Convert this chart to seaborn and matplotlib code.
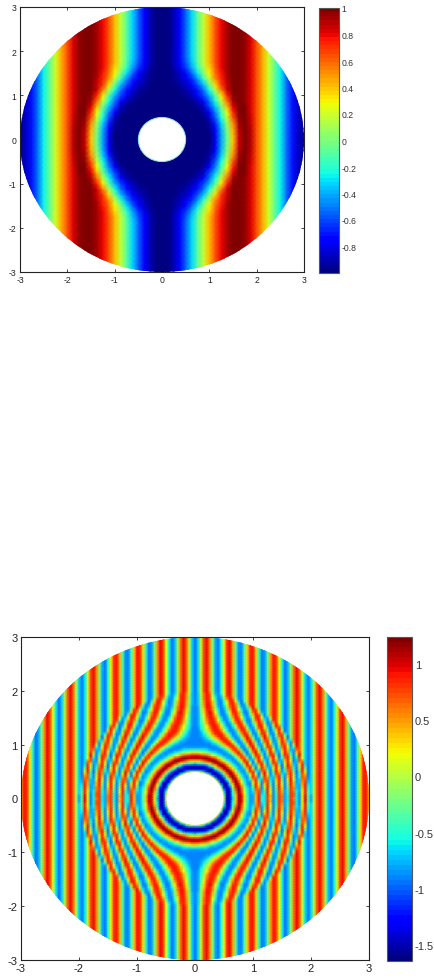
import numpy as np
import matplotlib
matplotlib.use("Agg")
import matplotlib.pyplot as plt
from matplotlib.patches import Ellipse
import seaborn as sns

# field values, one quadrant each (the plots are mirror symmetric)
# upper plot: x = 0, 0.125 .. 3, straight stripes outside the bent zone
top_outer = [
    -1, -.97, -.88, -.73, -.54, -.32, -.07, .18, .42, .63, .80, .92, .99,
    .99, .94, .82, .65, .44, .21, -.04, -.28, -.51, -.71, -.86, -.96,
]
# bent zone, y = 0, 0.125 .. 1.875; each row runs on into top_outer
top_rows = [
    [-1, -1, -1, -1, -1, -1, -1, -.99, -.97, -.80, -.43, -.05, .40, .85, .99, .89],
    [-1, -1, -1, -1, -1, -1, -1, -.99, -.97, -.79, -.42, -.03, .42, .86, .99, .89],
    [-1, -1, -1, -1, -1, -1, -1, -.99, -.95, -.75, -.38, .01, .45, .90, .99, .88],
    [-1, -1, -1, -1, -1, -1, -1, -.98, -.91, -.68, -.32, .07, .53, .92, .99, .87],
    [-1, -1, -1, -1, -1, -1, -.99, -.97, -.85, -.57, -.25, .17, .63, .95, .98, .86],
    [-1, -1, -1, -1, -1, -.99, -.98, -.93, -.76, -.47, -.13, .27, .72, .99, .98, .84],
    [-1, -1, -1, -1, -1, -.99, -.96, -.85, -.62, -.36, -.01, .42, .82, 1, .97],
    [-1, -1, -1, -1, -.99, -.96, -.89, -.72, -.51, -.23, .16, .59, .92, 1, .95],
    [-1, -1, -1, -.99, -.96, -.90, -.78, -.62, -.38, -.07, .34, .74, .95, 1],
    [-1, -1, -.99, -.96, -.91, -.83, -.70, -.51, -.24, .14, .55, .85, .97, 1],
    [-1, -.99, -.97, -.93, -.86, -.75, -.59, -.36, -.03, .35, .69, .87, .98],
    [-1, -.99, -.96, -.90, -.81, -.67, -.45, -.17, .18, .52, .74, .90],
    [-1, -.99, -.94, -.85, -.73, -.54, -.29, .03, .30, .57, .78],
    [-1, -.98, -.92, -.81, -.64, -.41, -.16, .11, .37, .62],
    [-1, -.97, -.89, -.76, -.58, -.36, -.11, .16],
    [-1, -.97, -.89, -.74, -.56, -.32],
]

# lower plot: x = 0, 0.05 .. 3, straight stripes outside the bent zone
outer_stripe = [
    -.95, -.66, .04, .71, .95, .60, -.11, -.76, -.94, -.55, .18, .80, .93, .49, -.25, -.84,
    -.91, -.42, .32, .87, .88, .35, -.39, -.89, -.85, -.29, .46, .92, .82, .22, -.52, -.93,
    -.78, -.14, .58, .94, .73, .07, -.63, -.95, -.68, .0, .69, .95, .63, -.07, -.73, -.94,
    -.57, .15, .78, .93, .51, -.22, -.82, -.92, -.45, .29, .85, .89, .39,
]
# bent zone in tenths, y = 0, 0.05 .. 1.9; each row runs on into outer_stripe
lower_rows = [
    [-2, -2, -2, -2, -2, -2, -2, -2, -2, -2, -2, -14, -15, -7, 3, 11, 10, 3, -4, -8, -8, 4, 9, -6, -6, 8, 3, -9, -5, 8, 6, -8, -6, 8, 6, -6, -9, 2, 10, -3, -8],
    [-2, -2, -2, -2, -2, -2, -2, -2, -2, -2, -2, -14, -15, -6, 3, 11, 11, 3, -4, -8, -8, 4, 9, -6, -6, 8, 4, -9, -5, 8, 6, -8, -6, 8, 7, -6, -9, 2, 10, -3, -8],
    [-2, -2, -2, -2, -2, -2, -2, -2, -2, -2, -4, -15, -14, -5, 4, 11, 9, 2, -5, -8, -7, 5, 8, -7, -5, 9, 2, -9, -4, 8, 5, -8, -5, 8, 7, -6, -9, 2, 9, -3],
    [-2, -2, -2, -2, -2, -2, -2, -2, -2, -2, -7, -15, -13, -4, 6, 12, 8, 1, -5, -8, -6, 6, 7, -8, -4, 9, 2, -9, -3, 8, 4, -8, -5, 8, 6, -6, -8, 2, 9, -4],
    [-2, -2, -2, -2, -2, -2, -2, -2, -2, -2, -11, -15, -11, -1, 8, 12, 7, 0, -6, -8, -4, 8, 5, -9, -1, 9, 0, -9, -2, 9, 3, -9, -3, 8, 6, -7, -8, 3, 9, -5],
    [-2, -2, -2, -2, -2, -2, -2, -2, -2, -6, -15, -15, -7, 2, 10, 11, 5, -2, -7, -9, -1, 9, 3, -9, 1, 9, -2, -9, -1, 9, 2, -9, -2, 9, 4, -7, -8, 4, 9, -6],
    [-2, -2, -2, -2, -2, -2, -2, -2, -2, -12, -15, -12, -3, 6, 12, 9, 2, -4, -8, -9, 2, 9, 0, -9, 5, 8, -3, -9, 1, 9, 0, -9, -1, 9, 4, -8, -7, 5, 8, -7],
    [-2, -2, -2, -2, -2, -2, -2, -2, -10, -15, -14, -6, 2, 9, 12, 6, 0, -6, -8, -6, 5, 8, -4, -7, 7, 7, -6, -8, 3, 9, -2, -9, 1, 10, 2, -8, -7, 6, 7, -8],
    [-2, -2, -2, -2, -2, -2, -2, -10, -15, -15, -9, -1, 7, 12, 9, 3, -3, -7, -9, -2, 8, 6, -8, -4, 8, 5, -7, -7, 5, 9, -3, -9, 3, 9, 1, -9, -5, 7, 6, -9],
    [-2, -2, -2, -2, -2, -6, -12, -15, -15, -10, -3, 5, 11, 11, 6, 0, -6, -8, -7, 2, 9, 1, -10, 0, 10, 2, -9, -5, 7, 7, -6, -8, 5, 9, 0, -9, -5, 7, 4],
    [-2, -3, -4, -7, -11, -15, -15, -14, -9, -3, 4, 10, 12, 8, 2, -4, -8, -9, -2, 7, 8, -5, -8, 6, 9, -1, -9, -3, 9, 4, -8, -6, 6, 8, -2, -10, -3, 9, 1],
    [-14, -14, -15, -15, -15, -15, -12, -6, -1, 5, 10, 12, 8, 3, -2, -7, -8, -7, 3, 9, 3, -9, -4, 8, 6, -5, -9, 1, 9, 2, -9, -4, 7, 7, -4, -9, -1, 9, -1],
    [-15, -15, -14, -13, -11, -7, -3, 2, 7, 11, 12, 8, 3, -1, -6, -8, -8, -1, 7, 8, -4, -9, 2, 9, 4, -8, -7, 3, 9, 0, -10, -1, 9, 6, -6, -9, 1, 9, -4],
    [-7, -6, -5, -4, -1, 2, 6, 9, 12, 11, 8, 3, -1, -6, -8, -9, -4, 4, 10, 2, -9, -6, 6, 9, -1, -9, -5, 7, 8, -4, -9, 1, 9, 4, -7, -8, 3, 8],
    [3, 3, 4, 6, 8, 10, 12, 12, 9, 5, 2, -2, -6, -8, -9, -5, 2, 9, 7, -5, -9, 1, 9, 6, -5, -9, -1, 9, 5, -7, -8, 3, 9, 2, -9, -7, 7, 6],
    [11, 11, 11, 12, 12, 11, 9, 7, 3, 0, -4, -7, -8, -9, -6, 1, 7, 8, 0, -9, -6, 5, 9, 2, -8, -8, 3, 9, 2, -9, -5, 6, 9, 0, -9, -6, 8, 2],
    [10, 10, 9, 8, 7, 5, 2, 0, -3, -6, -8, -8, -9, -6, 0, 6, 9, 4, -7, -8, 1, 8, 8, -2, -9, -5, 7, 9, -2, -10, -3, 8, 8, -2, -9, -2, 10],
    [3, 3, 2, 1, 0, -2, -4, -6, -7, -8, -9, -8, -5, 0, 6, 10, 5, -4, -10, -5, 5, 10, 4, -6, -9, -1, 9, 6, -6, -9, 1, 9, 6, -5, -9, 3, 9],
    [-4, -4, -5, -5, -6, -7, -8, -8, -9, -9, -7, -4, 1, 6, 9, 6, -2, -9, -8, 1, 8, 8, 0, -9, -7, 3, 9, 2, -8, -7, 3, 9, 4, -7, -8, 6],
    [-8, -8, -8, -8, -8, -9, -9, -9, -8, -6, -3, 1, 6, 9, 7, 0, -8, -9, -4, 5, 10, 4, -5, -9, -3, 7, 8, -2, -9, -5, 6, 9, 2, -8, -5, 8],
    [-9, -9, -9, -9, -9, -9, -8, -7, -5, -2, 3, 7, 9, 8, 1, -6, -9, -7, 2, 9, 8, 0, -8, -8, 1, 9, 5, -6, -9, -2, 7, 8, 0, -9, 0],
    [-9, -9, -9, -9, -8, -8, -6, -3, 0, 4, 8, 9, 8, 2, -5, -9, -8, -2, 6, 10, 5, -4, -9, -5, 6, 9, 2, -8, -8, 1, 9, 6, -5, -8, 5],
    [-9, -9, -9, -8, -7, -5, -2, 1, 4, 8, 9, 8, 3, -3, -8, -9, -5, 3, 9, 8, 0, -8, -9, -1, 8, 7, -2, -9, -7, 3, 9, 4, -8, -5],
    [-9, -9, -8, -7, -5, -2, 1, 5, 8, 9, 8, 4, -2, -7, -9, -7, -1, 6, 10, 5, -4, -9, -6, 4, 10, 5, -5, -9, -4, 6, 9, 0, -10],
    [-9, -9, -8, -6, -3, 1, 5, 8, 9, 9, 6, 0, -5, -9, -8, -4, 4, 9, 8, 0, -8, -9, -2, 7, 9, 1, -8, -9, -1, 8, 7, -5],
    [-9, -9, -7, -4, -1, 3, 7, 9, 9, 7, 2, -4, -8, -9, -7, 0, 7, 9, 5, -4, -9, -7, 2, 9, 7, -2, -9, -7, 2, 9, 3, -9],
    [-9, -9, -6, -3, 1, 5, 8, 9, 8, 4, -1, -6, -9, -8, -3, 5, 9, 8, 0, -7, -9, -3, 6, 9, 4, -4, -10, -5, 5, 9, -2],
    [-9, -8, -6, -2, 2, 6, 9, 9, 7, 1, -4, -8, -9, -6, 1, 7, 9, 5, -4, -9, -7, 0, 8, 9, 2, -7, -9, -1, 9, 6],
    [-9, -8, -5, -1, 4, 8, 9, 8, 5, -1, -6, -9, -8, -3, 5, 9, 8, 1, -7, -9, -5, 3, 9, 7, -1, -9, -8, 4, 9],
    [-9, -8, -5, 0, 5, 8, 9, 7, 2, -4, -8, -9, -6, 1, 7, 9, 5, -3, -9, -9, -2, 6, 9, 5, -4, -9, -4, 8],
    [-9, -8, -4, 1, 6, 9, 9, 6, 0, -6, -9, -8, -3, 4, 9, 8, 2, -6, -9, -7, 1, 8, 9, 2, -7, -8, 1],
    [-9, -8, -4, 2, 7, 9, 8, 4, -2, -8, -9, -7, 0, 6, 9, 6, 0, -7, -9, -5, 3, 9, 8, -2, -9, -5],
    [-9, -8, -3, 3, 7, 10, 8, 2, -4, -9, -9, -5, 2, 8, 9, 5, -3, -9, -9, -2, 6, 9, 3, -7],
    [-9, -8, -2, 3, 8, 9, 6, 0, -6, -9, -8, -3, 4, 9, 8, 2, -5, -9, -7, 0, 8, 8, -1],
    [-9, -8, -2, 4, 9, 9, 6, -1, -7, -9, -7, -1, 6, 9, 7, 0, -7, -9, -5, 5, 10, 4],
    [-9, -7, -2, 5, 9, 9, 4, -2, -8, -9, -6, 1, 7, 9, 6, -2, -9, -8, -1, 8],
    [-9, -7, -1, 5, 9, 8, 4, -3, -8, -9, -5, 2, 8, 9, 3, -6, -10, -5],
    [-9, -7, -1, 6, 9, 8, 2, -4, -9, -8, -3, 5, 9, 7, 0, -8],
    [-9, -7, -1, 6, 9, 8, 1, -6, -9, -7, 0, 7, 9],
    [-9, -7, 0, 6, 9, 7, 0, -7, -9],
]

axis_ticks = [-3, -2, -1, 0, 1, 2, 3]
top_cbar_ticks = [-.8, -.6, -.4, -.2, 0, .2, .4, .6, .8, 1]
top_cbar_labels = ["-0.8", "-0.6", "-0.4", "-0.2", "0", "0.2", "0.4", "0.6", "0.8", "1"]
low_cbar_ticks = [-1.5, -1, -.5, 0, .5, 1]
low_cbar_labels = ["-1.5", "-1", "-0.5", "0", "0.5", "1"]

W, H = 435, 979


def px_box(left, top, right, bottom):
    return [left / W, 1 - bottom / H, (right - left) / W, (bottom - top) / H]


def mirror(quad):
    # quadrant -> whole square
    right = np.asarray(quad, dtype=float)
    half = np.hstack([right[:, :0:-1], right])
    return np.vstack([half[:0:-1], half])


def draw_field(fig, data, ax_box, cbar_box, vmin, vmax, ticks, labels, fsize,
               x0, y0, per_unit, rim):
    # x0, y0: mesh index of the coordinate 0 on each axis
    ax = fig.add_axes(px_box(*ax_box))
    cax = fig.add_axes(px_box(*cbar_box))
    sns.heatmap(data, ax=ax, cbar_ax=cax, cmap=plt.get_cmap("jet", 64), vmin=vmin, vmax=vmax,
                xticklabels=False, yticklabels=False, linewidths=0, shading="gouraud",
                cbar_kws={"ticks": ticks})
    ax.set_xlim(x0 - 3 * per_unit, x0 + 3 * per_unit)
    ax.set_ylim(y0 - 3 * per_unit, y0 + 3 * per_unit)

    # disc with a hole of radius 0.5
    disc = Ellipse((x0, y0), 6 * per_unit, 6 * per_unit, transform=ax.transData)
    ax.collections[0].set_clip_path(disc)
    ax.add_patch(Ellipse((x0, y0), per_unit, per_unit, facecolor="white",
                         edgecolor=rim, linewidth=0.7, zorder=3))

    ax.set_xticks([x0 + t * per_unit for t in axis_ticks], [str(t) for t in axis_ticks])
    ax.set_yticks([y0 + t * per_unit for t in axis_ticks], [str(t) for t in axis_ticks],
                  rotation=0)
    ax.tick_params(direction="in", length=2.5, width=0.6, top=True, right=True, bottom=True,
                   left=True, labelsize=fsize, pad=2.5, colors="#222222")
    for spine in ax.spines.values():
        spine.set_visible(True)
        spine.set_linewidth(0.8)
        spine.set_color("#222222")

    cb = ax.collections[0].colorbar
    cb.set_ticks(ticks, labels=labels)
    cb.ax.tick_params(direction="in", length=2, width=0.6, labelsize=fsize, pad=2,
                      colors="#333333")
    cb.outline.set_visible(True)
    cb.outline.set_linewidth(0.8)
    cb.outline.set_edgecolor("#555555")
    return ax


sns.set_theme(style="white")
plt.rcParams["font.family"] = ["Liberation Sans", "DejaVu Sans"]

top_quad = [row + top_outer[len(row):] for row in top_rows] + [top_outer] * 9
top_field = mirror(top_quad)

low_quad = [[v / 10 for v in row] + outer_stripe[len(row):] for row in lower_rows]
low_quad += [outer_stripe] * 22
low_field = mirror(low_quad)

fig = plt.figure(figsize=(W / 100, H / 100), dpi=100)
draw_field(fig, top_field, (20, 8, 304, 273), (319, 9, 339, 274), -1, 1,
           top_cbar_ticks, top_cbar_labels, 6.2, 24, 24, 8, "#8fe8e0")
draw_field(fig, low_field, (21, 638, 369, 961), (387, 638, 412, 962), -1.64, 1.24,
           low_cbar_ticks, low_cbar_labels, 8, 60, 61, 20, "#b5d96a")

fig.savefig("out.png", dpi=100)
